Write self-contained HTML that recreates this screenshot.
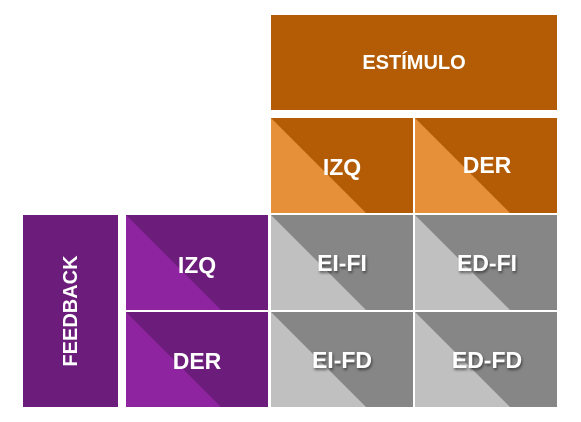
<!DOCTYPE html>
<html><head><meta charset="utf-8"><style>
html,body{margin:0;padding:0;background:#fff;width:581px;height:422px;overflow:hidden}
text{font-family:"Liberation Sans",sans-serif;font-weight:bold;fill:#fff;text-anchor:middle;dominant-baseline:central}
.sh{filter:url(#ds)}
</style></head><body>
<svg width="581" height="422" viewBox="0 0 581 422" xmlns="http://www.w3.org/2000/svg">
<defs><filter id="ds" x="-20%" y="-20%" width="140%" height="140%"><feDropShadow dx="1" dy="2" stdDeviation="1.2" flood-color="#000" flood-opacity="0.5"/></filter></defs>
<rect x="271" y="15" width="286" height="95" fill="#b45c05"/>
<text x="414" y="63" font-size="20">ESTÍMULO</text>

<!-- orange -->
<rect x="271" y="118" width="142" height="95" fill="#b45c05"/>
<polygon points="271,118 366,213 271,213" fill="#e6903a"/>
<text x="342" y="167" font-size="23">IZQ</text>
<rect x="415" y="118" width="142" height="95" fill="#b45c05"/>
<polygon points="415,118 510,213 415,213" fill="#e6903a"/>
<text x="487" y="165" font-size="23">DER</text>

<!-- feedback -->
<rect x="23" y="215" width="95" height="192" fill="#6c1c7a"/>
<text x="0" y="0" font-size="20" transform="translate(71,311) rotate(-90)">FEEDBACK</text>

<!-- purple -->
<rect x="126" y="215" width="142" height="95" fill="#6c1c7a"/>
<polygon points="126,215 221,310 126,310" fill="#8e24a0"/>
<text x="197" y="265" font-size="23">IZQ</text>
<rect x="126" y="312" width="142" height="95" fill="#6c1c7a"/>
<polygon points="126,312 221,407 126,407" fill="#8e24a0"/>
<text x="197" y="361" font-size="23">DER</text>

<!-- gray -->
<rect x="271" y="215" width="142" height="95" fill="#868686"/>
<polygon points="271,215 366,310 271,310" fill="#c0c0c0"/>
<text class="sh" x="342" y="263" font-size="23">EI-FI</text>
<rect x="415" y="215" width="142" height="95" fill="#868686"/>
<polygon points="415,215 510,310 415,310" fill="#c0c0c0"/>
<text class="sh" x="487" y="263" font-size="23">ED-FI</text>
<rect x="271" y="312" width="142" height="95" fill="#868686"/>
<polygon points="271,312 366,407 271,407" fill="#c0c0c0"/>
<text class="sh" x="342" y="360" font-size="23">EI-FD</text>
<rect x="415" y="312" width="142" height="95" fill="#868686"/>
<polygon points="415,312 510,407 415,407" fill="#c0c0c0"/>
<text class="sh" x="487" y="360" font-size="23">ED-FD</text>
</svg>
</body></html>
